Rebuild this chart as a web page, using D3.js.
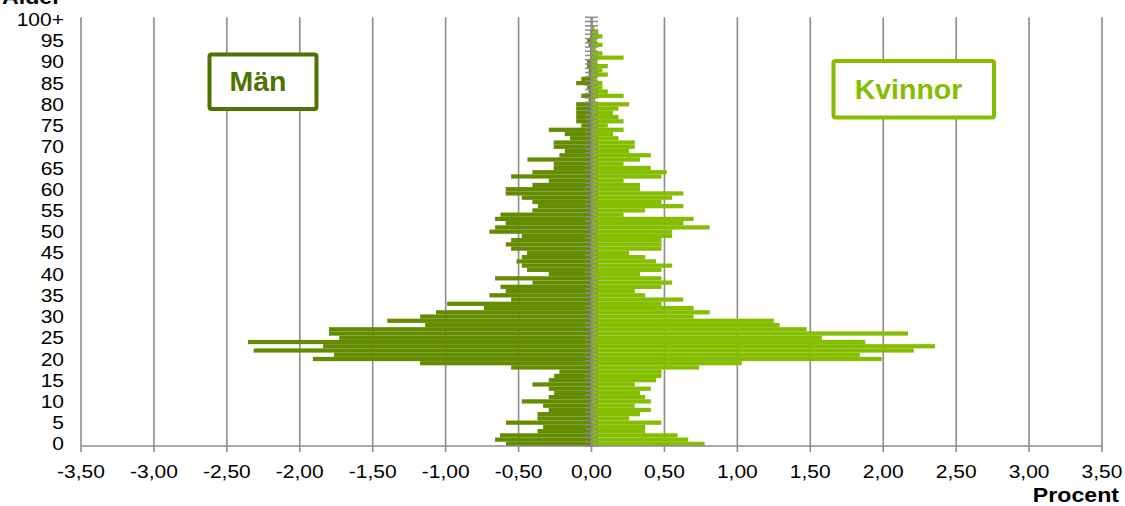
<!DOCTYPE html>
<html><head><meta charset="utf-8">
<script src="https://cdn.jsdelivr.net/npm/d3@7/dist/d3.min.js"></script>
<style>body{margin:0;background:#fff}svg{display:block}text{font-family:"Liberation Sans",Arial,sans-serif}</style>
</head><body>
<svg id="c" width="1125" height="506"></svg>
<script>
const ages = d3.range(0, 101).map(a => a === 100 ? "100+" : String(a));
const men = [-0.586,-0.661,-0.627,-0.37,-0.332,-0.586,-0.37,-0.37,-0.293,-0.332,
 -0.478,-0.293,-0.256,-0.293,-0.405,-0.293,-0.256,-0.22,-0.551,-1.175,
 -1.91,-1.765,-2.316,-1.84,-2.355,-1.73,-1.80,-1.80,-1.14,-1.40,
 -1.175,-1.066,-0.737,-0.99,-0.551,-0.70,-0.588,-0.624,-0.405,-0.661,
 -0.293,-0.442,-0.478,-0.514,-0.478,-0.442,-0.551,-0.588,-0.551,-0.478,
 -0.70,-0.661,-0.588,-0.661,-0.624,-0.405,-0.368,-0.405,-0.478,-0.588,
 -0.588,-0.405,-0.293,-0.551,-0.405,-0.259,-0.259,-0.439,-0.22,-0.183,
 -0.259,-0.259,-0.147,-0.183,-0.293,-0.07,-0.105,-0.105,-0.105,-0.105,
 -0.105,-0.02,-0.07,-0.02,-0.03,-0.105,-0.07,-0.02,-0.02,-0.03,
 -0.03,-0.01,-0.01,-0.01,-0.02,-0.03,-0.01,-0.01,0,0,0];
const women = [0.775,0.663,0.59,0.368,0.368,0.48,0.258,0.333,0.407,0.297,
 0.407,0.368,0.333,0.407,0.297,0.443,0.48,0.48,0.738,1.03,
 1.99,1.84,2.21,2.355,1.877,1.58,2.17,1.475,1.29,1.25,
 0.70,0.81,0.70,0.48,0.63,0.368,0.297,0.48,0.553,0.48,
 0.333,0.48,0.553,0.443,0.368,0.258,0.48,0.48,0.48,0.553,
 0.553,0.81,0.63,0.70,0.22,0.368,0.63,0.48,0.553,0.63,
 0.333,0.333,0.22,0.48,0.516,0.407,0.22,0.333,0.407,0.258,
 0.297,0.297,0.185,0.148,0.22,0.112,0.22,0.185,0.148,0.185,
 0.258,0.026,0.22,0.112,0.075,0.075,0.04,0.112,0.075,0.112,
 0.04,0.22,0.075,0.03,0.075,0.037,0.075,0.047,0.02,0.01,0.01];
const yTickLabels = ages.filter((d, i) => i % 5 === 0);
const xTickValues = d3.range(-3.5, 3.51, 0.5);
const seriesNames = ["Män", "Kvinnor"];

const svg = d3.select("#c");
const SX = 1.13;
const x = d3.scaleLinear().domain([-3.5, 3.5]).range([81, 1102]);
const y = d3.scaleBand().domain(ages).range([446, 17.3]).padding(0);
const fmt = v => d3.format(".2f")(v).replace(".", ",").replace("−", "-");

// gridlines
svg.append("g").selectAll("line").data(xTickValues).join("line")
  .attr("x1", d => x(d)).attr("x2", d => x(d))
  .attr("y1", y.range()[1]).attr("y2", y.range()[0])
  .attr("stroke", "#8c8c8c").attr("stroke-width", 1.6);

// bars
const bars = svg.append("g");
bars.selectAll("rect.m").data(ages).join("rect").attr("class", "m")
  .attr("x", (d, i) => x(men[i])).attr("width", (d, i) => x(0) - x(men[i]))
  .attr("y", d => y(d)).attr("height", y.bandwidth())
  .attr("fill", "#648c00");
bars.selectAll("rect.w").data(ages).join("rect").attr("class", "w")
  .attr("x", x(0)).attr("width", (d, i) => x(women[i]) - x(0))
  .attr("y", d => y(d)).attr("height", y.bandwidth())
  .attr("fill", "#85bd00");

// x axis
const xAxis = svg.append("g").attr("transform", "translate(0,446)");
xAxis.append("line").attr("x1", x(-3.5)).attr("x2", x(3.5))
  .attr("stroke", "#8c8c8c").attr("stroke-width", 1.6);
xAxis.selectAll("line.t").data(xTickValues).join("line").attr("class", "t")
  .attr("x1", d => x(d)).attr("x2", d => x(d)).attr("y1", 0).attr("y2", 6)
  .attr("stroke", "#8c8c8c").attr("stroke-width", 1.6);
xAxis.selectAll("text").data(xTickValues).join("text")
  .attr("transform", d => `translate(${x(d)},32) scale(${SX},1)`)
  .attr("text-anchor", "middle").attr("font-size", 18.6).attr("fill", "#000")
  .text(d => fmt(d));

// zero axis with minor ticks
const z = svg.append("g");
const bounds = ages.map(d => y(d)).concat([y.range()[0]]);
z.selectAll("line.t").data(bounds).join("line").attr("class", "t")
  .attr("x1", x(0) - 6.5).attr("x2", x(0) + 6.5)
  .attr("y1", d => d).attr("y2", d => d)
  .attr("stroke", "#8c8c8c").attr("stroke-width", 1.5);
z.append("line").attr("x1", x(0)).attr("x2", x(0))
  .attr("y1", y.range()[1]).attr("y2", y.range()[0])
  .attr("stroke", "#8c8c8c").attr("stroke-width", 1.8);

// y labels
svg.append("g").selectAll("text").data(yTickLabels).join("text")
  .attr("transform", d => `translate(64,${y(d) + y.bandwidth() / 2 + 6.6}) scale(${SX},1)`)
  .attr("text-anchor", "end").attr("font-size", 18.6).attr("fill", "#000")
  .text(d => d);

// axis titles
svg.append("text").attr("transform", `translate(2,3.5) scale(${SX},1)`)
  .attr("font-size", 20.5).attr("font-weight", "bold").text("Ålder");
svg.append("text").attr("transform", `translate(1119,501.5) scale(${SX},1)`)
  .attr("text-anchor", "end").attr("font-size", 20.5).attr("font-weight", "bold").text("Procent");

// legend boxes
const legends = [
  {name: seriesNames[0], x: 209.5, y: 54.5, w: 107, h: 54.5, color: "#4f7300", tx: 258, ty: 91},
  {name: seriesNames[1], x: 833.5, y: 61, w: 160.5, h: 56.5, color: "#85bd00", tx: 908.5, ty: 99}
];
const lg = svg.append("g").selectAll("g").data(legends).join("g");
lg.append("rect").attr("x", d => d.x).attr("y", d => d.y).attr("width", d => d.w).attr("height", d => d.h)
  .attr("rx", 2).attr("fill", "#fff").attr("stroke", d => d.color).attr("stroke-width", 4);
lg.append("text").attr("x", d => d.tx).attr("y", d => d.ty).attr("text-anchor", "middle")
  .attr("font-size", 28.5).attr("font-weight", "bold").attr("fill", d => d.color).text(d => d.name);
</script>
</body></html>
